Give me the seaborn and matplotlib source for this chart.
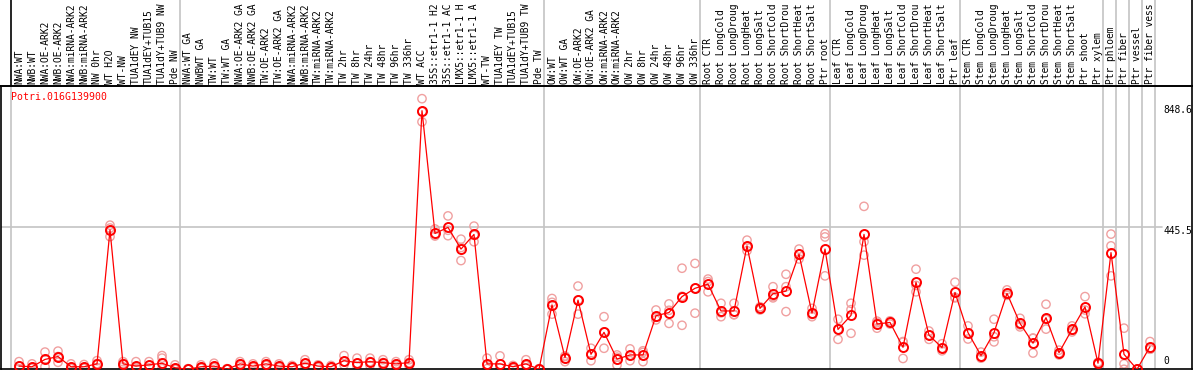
import numpy as np
import pandas as pd
import matplotlib
matplotlib.use('Agg')
import matplotlib.pyplot as plt
import matplotlib.transforms as mtransforms
import seaborn as sns

GENE = 'Potri.016G139900'

samples = ['NWA:WT', 'NWB:WT', 'NWA:OE-ARK2', 'NWB:OE-ARK2', 'NWA:miRNA-ARK2',
           'NWB:miRNA-ARK2', 'NW 0hr', 'WT H2O', 'WT-NW', 'TUA1dEY NW',
           'TUA1dEY+TUB15', 'TUA1dY+TUB9 NW', 'Pde NW', 'NWA:WT GA', 'NWBWT GA',
           'TW:WT', 'TW:WT GA', 'NWA:OE-ARK2 GA', 'NWB:OE-ARK2 GA', 'TW:OE-ARK2',
           'TW:OE-ARK2 GA', 'NWA:miRNA-ARK2', 'NWB:miRNA-ARK2', 'TW:miRNA-ARK2',
           'TW:miRNA-ARK2', 'TW 2hr', 'TW 8hr', 'TW 24hr', 'TW 48hr', 'TW 96hr',
           'TW 336hr', 'WT ACC', '35S::etr1-1 H2', '35S::etr1-1 AC', 'LMX5::etr1-1 H',
           'LMX5::etr1-1 A', 'WT-TW', 'TUA1dEY TW', 'TUA1dEY+TUB15', 'TUA1dY+TUB9 TW',
           'Pde TW', 'OW:WT', 'OW:WT GA', 'OW:OE-ARK2', 'OW:OE-ARK2 GA',
           'OW:miRNA-ARK2', 'OW:miRNA-ARK2', 'OW 2hr', 'OW 8hr', 'OW 24hr',
           'OW 48hr', 'OW 96hr', 'OW 336hr', 'Root CTR', 'Root LongCold',
           'Root LongDroug', 'Root LongHeat', 'Root LongSalt', 'Root ShortCold',
           'Root ShortDrou', 'Root ShortHeat', 'Root ShortSalt', 'Ptr root',
           'Leaf CTR', 'Leaf LongCold', 'Leaf LongDroug', 'Leaf LongHeat',
           'Leaf LongSalt', 'Leaf ShortCold', 'Leaf ShortDrou', 'Leaf ShortHeat',
           'Leaf ShortSalt', 'Ptr leaf', 'Stem CTR', 'Stem LongCold',
           'Stem LongDroug', 'Stem LongHeat', 'Stem LongSalt', 'Stem ShortCold',
           'Stem ShortDrou', 'Stem ShortHeat', 'Stem ShortSalt', 'Ptr shoot',
           'Ptr xylem', 'Ptr phloem', 'Ptr fiber', 'Ptr vessel', 'Ptr fiber vess']

mean_expr = [10, 8, 31, 40, 8, 8, 17, 437, 17, 10,
             14, 19, 5, 0, 8, 10, 0, 17, 10, 17,
             10, 8, 19, 10, 8, 27, 21, 24, 21, 17,
             21, 811, 426, 445, 377, 423, 17, 17, 8, 17,
             0, 202, 37, 217, 47, 116, 32, 45, 45, 168,
             178, 228, 254, 267, 183, 183, 387, 191, 237, 245,
             361, 176, 377, 125, 169, 423, 142, 147, 69, 273,
             107, 68, 241, 115, 43, 115, 238, 144, 82, 162,
             52, 125, 196, 19, 366, 47, 0, 71]

rep1 = [24, 17, 54, 57, 17, 15, 27, 452, 24, 24,
        24, 43, 14, 2, 14, 19, 2, 24, 17, 24,
        17, 12, 30, 14, 12, 43, 35, 35, 30, 24,
        30, 848.6, 440, 481, 408, 449, 35, 42, 12, 30,
        2, 222, 42, 261, 66, 165, 45, 64, 58, 186,
        205, 317, 332, 283, 207, 207, 405, 196, 259, 298,
        377, 191, 425, 157, 207, 511, 151, 147, 87, 314,
        120, 80, 273, 136, 54, 157, 249, 160, 97, 204,
        60, 136, 228, 22, 424, 129, 0, 87]

rep2 = [2, 3, 8, 22, 2, 3, 5, 416, 8, 3,
        5, 2, 0, 0, 3, 5, 0, 10, 5, 12,
        5, 4, 10, 5, 4, 14, 10, 12, 12, 10,
        12, 776, 420, 419, 341, 400, 2, 5, 2, 12,
        0, 173, 24, 173, 27, 66, 13, 27, 24, 155,
        144, 138, 176, 243, 165, 171, 372, 186, 228, 181,
        346, 165, 293, 94, 113, 358, 129, 142, 34, 263,
        94, 58, 226, 95, 35, 86, 233, 133, 51, 126,
        45, 122, 174, 16, 387, 17, 0, 63]

rep3 = [10, 6, 31, 40, 6, 6, 18, 443, 18, 5,
        12, 35, 2, 0, 6, 6, 0, 17, 8, 15,
        8, 8, 17, 10, 8, 24, 19, 24, 21, 17,
        21, 808, 418, 436, 382, 420, 14, 5, 8, 15,
        0, 210, 40, 217, 48, 117, 38, 44, 53, 163,
        185, 229, 254, 275, 177, 172, 384, 191, 224, 259,
        360, 172, 415, 125, 187, 400, 146, 152, 85, 243,
        107, 66, 224, 114, 40, 102, 232, 139, 98, 156,
        51, 117, 186, 19, 293, 0, 0, 63]

# group separators (index of first sample in each block, plus the end)
group_starts = [0, 13, 41, 53, 63, 73, 84, 85, 86, 87, 88]
ytick_vals = [0, 445.5, 848.6]
ytick_offsets = [3, 1, -6]

W, H = 1194, 370
RED = '#ff0000'
PINK = '#f0a0a0'
GRID = '#c4c4c4'
MONO = 'DejaVu Sans Mono'

sns.set_style('white')
plt.rcParams['font.family'] = [MONO, 'DejaVu Sans']

pos = np.arange(len(samples))
df_mean = pd.DataFrame({'pos': pos, 'value': mean_expr})
df_rep = pd.DataFrame({'pos': np.concatenate([pos, pos, pos]),
                       'value': rep1 + rep2 + rep3})

fig = plt.figure(figsize=(W / 100, H / 100), dpi=100)

# pixel geometry of the plot panel
left_px, right_px, top_px, bot_px = 1, 1192, 86, 369.3
ax = fig.add_axes([left_px / W, (H - bot_px) / H,
                   (right_px - left_px) / W, (bot_px - top_px) / H])
hdr = fig.add_axes([left_px / W, (H - top_px) / H,
                    (right_px - left_px) / W, top_px / H], sharex=ax)

x0 = (left_px - 19) / 13
x1 = (right_px - 19) / 13
ax.set_xlim(x0, x1)
ax.set_ylim(0, 888.4)

sep = [g - 0.62 for g in group_starts]
for s in sep:
    ax.axvline(s, color=GRID, lw=1.2, zorder=0)
ax.plot([x0, (1162 - 19) / 13], [445.5, 445.5], color=GRID, lw=1.2, zorder=0)

sns.scatterplot(data=df_rep, x='pos', y='value', ax=ax, marker='o', s=36,
                facecolors='none', edgecolor=PINK, linewidth=1.0, zorder=2,
                legend=False)
sns.lineplot(data=df_mean, x='pos', y='value', ax=ax, color=RED, lw=0.9,
             marker='o', markersize=6.5, markerfacecolor='none',
             markeredgecolor=RED, markeredgewidth=1.4, zorder=3)

for v, off in zip(ytick_vals, ytick_offsets):
    va = 'bottom' if v == 0 else 'top'
    ax.annotate(f'{v:g}', xy=((1163 - 19) / 13, v), xytext=(0, off),
                textcoords='offset pixels', ha='left', va=va,
                fontsize=6.9, family=MONO, color='black')

ax.text(10 / (right_px - left_px), 1 - 11 / (bot_px - top_px), GENE,
        transform=ax.transAxes, color=RED, fontsize=7.1, family=MONO,
        ha='left', va='center')

ax.set_xlabel('')
ax.set_ylabel('')
ax.set_xticks([])
ax.set_yticks([])
for side in ['left', 'bottom', 'right']:
    ax.spines[side].set_color('black')
    ax.spines[side].set_linewidth(1.2)
ax.spines['top'].set_visible(False)

# header with rotated sample names
hdr.set_ylim(0, 1)
hdr.set_yticks([])
hdr.tick_params(bottom=False, labelbottom=False)
hdr.spines['left'].set_visible(False)
hdr.spines['top'].set_visible(False)
hdr.spines['bottom'].set_color('black')
hdr.spines['bottom'].set_linewidth(1.4)
hdr.spines['right'].set_color('black')
hdr.spines['right'].set_linewidth(1.2)
for i, s in enumerate(sep):
    hdr.axvline(s, color='black' if i == 0 else GRID, lw=1.2, zorder=0)

trans = mtransforms.blended_transform_factory(hdr.transData, hdr.transAxes)
for p, name in zip(pos, samples):
    hdr.text(p, 2.5 / top_px, name, transform=trans, rotation=90,
             ha='center', va='bottom', fontsize=6.9, family=MONO,
             color='black', clip_on=True)

fig.savefig('out.png', dpi=100)
